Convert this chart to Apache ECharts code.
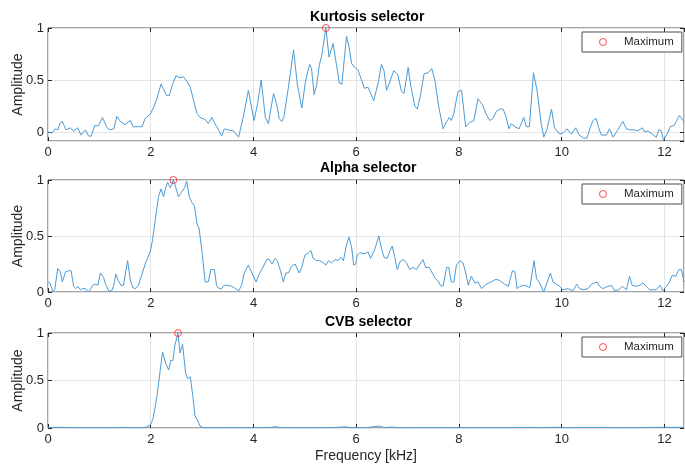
<!DOCTYPE html>
<html><head><meta charset="utf-8">
<script src="https://cdn.jsdelivr.net/npm/echarts@6/dist/echarts.min.js"></script>
<style>html,body{margin:0;padding:0;background:#fff}#c{width:685px;height:465px}</style>
</head><body><div id="c"></div>
<script>
// ---- data (frequency in kHz, normalised amplitude) ----
const kurtFreq = [0.00,0.08,0.14,0.19,0.24,0.28,0.35,0.43,0.50,0.58,0.64,0.73,0.79,0.84,0.91,0.98,1.06,1.15,1.21,1.28,1.34,1.41,1.50,1.60,1.66,1.76,1.83,1.89,1.99,2.05,2.12,2.20,2.25,2.31,2.36,2.42,2.49,2.57,2.64,2.70,2.77,2.83,2.90,2.96,3.06,3.12,3.19,3.25,3.32,3.38,3.43,3.51,3.61,3.71,3.80,3.90,4.01,4.08,4.15,4.23,4.29,4.39,4.45,4.50,4.55,4.59,4.68,4.78,4.85,4.94,5.01,5.09,5.13,5.18,5.23,5.28,5.33,5.41,5.47,5.55,5.62,5.67,5.72,5.81,5.86,5.91,5.97,6.03,6.09,6.16,6.23,6.34,6.43,6.49,6.54,6.59,6.66,6.73,6.81,6.88,6.93,7.01,7.06,7.14,7.19,7.25,7.32,7.40,7.47,7.53,7.60,7.69,7.76,7.81,7.85,7.90,7.98,8.05,8.13,8.21,8.29,8.37,8.46,8.52,8.60,8.66,8.73,8.79,8.86,8.92,8.97,9.02,9.09,9.17,9.26,9.31,9.37,9.45,9.52,9.60,9.65,9.71,9.80,9.86,9.96,10.02,10.10,10.19,10.27,10.34,10.43,10.49,10.56,10.61,10.67,10.72,10.77,10.80,10.87,10.93,11.00,11.09,11.19,11.26,11.33,11.42,11.48,11.57,11.61,11.68,11.76,11.84,11.89,11.94,11.98,12.07,12.11,12.18,12.23,12.29,12.36,12.38];
const kurtAmp  = [0.00,-0.01,0.03,0.02,0.09,0.10,0.02,0.04,0.01,0.04,-0.03,0.02,-0.04,-0.04,0.06,0.06,0.14,0.04,0.02,0.03,0.15,0.10,0.07,0.11,0.05,0.05,0.05,0.13,0.17,0.23,0.32,0.46,0.41,0.35,0.35,0.45,0.54,0.52,0.53,0.49,0.43,0.31,0.18,0.14,0.12,0.08,0.14,0.08,0.02,-0.04,0.03,0.02,0.01,-0.05,0.14,0.40,0.11,0.27,0.50,0.14,0.08,0.37,0.27,0.13,0.10,0.14,0.43,0.79,0.47,0.23,0.48,0.65,0.61,0.36,0.45,0.64,0.74,1.00,0.72,0.85,0.63,0.47,0.46,0.92,0.82,0.66,0.62,0.60,0.52,0.42,0.43,0.30,0.48,0.65,0.59,0.40,0.49,0.59,0.55,0.39,0.37,0.62,0.45,0.25,0.22,0.35,0.56,0.57,0.61,0.50,0.26,0.03,0.10,0.14,0.11,0.18,0.39,0.40,0.05,0.09,0.11,0.32,0.26,0.18,0.11,0.13,0.20,0.22,0.22,0.14,0.03,0.08,0.05,0.03,0.14,0.05,0.05,0.57,0.40,0.08,-0.05,0.02,0.22,0.04,-0.02,-0.01,0.03,-0.02,0.04,-0.03,-0.06,-0.06,0.05,0.11,0.13,0.04,-0.03,-0.02,-0.03,0.03,-0.05,0.02,0.10,0.03,0.02,0.02,0.01,0.04,0.00,0.01,-0.02,-0.05,0.02,0.01,-0.08,0.00,0.05,0.06,0.10,0.16,0.11,0.10];

const alphaFreq = [0.00,0.04,0.09,0.13,0.19,0.24,0.28,0.34,0.40,0.45,0.50,0.54,0.58,0.63,0.67,0.73,0.78,0.82,0.87,0.92,0.97,1.02,1.08,1.13,1.18,1.24,1.28,1.32,1.37,1.42,1.47,1.55,1.60,1.65,1.70,1.76,1.83,1.86,1.90,1.99,2.03,2.09,2.15,2.20,2.25,2.29,2.33,2.38,2.41,2.44,2.47,2.54,2.60,2.66,2.70,2.75,2.80,2.85,2.90,2.94,2.99,3.06,3.12,3.17,3.24,3.28,3.33,3.38,3.43,3.50,3.58,3.65,3.71,3.77,3.82,3.90,3.96,4.05,4.10,4.16,4.19,4.26,4.31,4.36,4.42,4.46,4.52,4.58,4.63,4.68,4.74,4.81,4.89,4.94,5.00,5.07,5.12,5.16,5.23,5.29,5.36,5.41,5.46,5.52,5.59,5.65,5.70,5.75,5.81,5.86,5.91,5.95,5.99,6.02,6.07,6.17,6.23,6.28,6.36,6.44,6.49,6.54,6.60,6.65,6.70,6.75,6.80,6.85,6.91,6.98,7.04,7.11,7.17,7.24,7.30,7.35,7.42,7.48,7.54,7.59,7.64,7.69,7.76,7.80,7.85,7.90,7.95,8.02,8.08,8.13,8.18,8.24,8.31,8.37,8.44,8.50,8.57,8.63,8.70,8.76,8.83,8.89,8.96,9.04,9.09,9.13,9.18,9.28,9.38,9.46,9.51,9.57,9.65,9.71,9.78,9.83,9.90,9.96,10.02,10.12,10.22,10.29,10.35,10.42,10.51,10.58,10.69,10.74,10.80,10.90,10.97,11.03,11.11,11.18,11.26,11.32,11.37,11.45,11.52,11.58,11.65,11.71,11.78,11.84,11.91,11.97,12.02,12.09,12.15,12.22,12.28,12.33,12.38];
const alphaAmp  = [0.09,0.08,0.01,0.02,0.21,0.18,0.09,0.18,0.19,0.19,0.05,0.03,0.05,0.02,0.03,0.03,0.00,0.02,0.06,0.07,0.06,0.17,0.13,0.06,0.01,0.01,0.06,0.16,0.10,0.06,0.06,0.28,0.11,0.04,0.03,0.06,0.16,0.16,0.26,0.36,0.45,0.65,0.85,0.92,0.85,0.93,0.98,0.93,0.96,1.00,0.96,0.85,0.89,0.93,0.99,0.85,0.80,0.77,0.61,0.57,0.39,0.09,0.09,0.20,0.20,0.06,0.03,0.03,0.06,0.06,0.05,0.03,0.01,0.06,0.17,0.24,0.18,0.09,0.15,0.20,0.20,0.29,0.29,0.25,0.30,0.28,0.20,0.09,0.17,0.17,0.23,0.25,0.17,0.22,0.33,0.35,0.37,0.30,0.28,0.28,0.26,0.24,0.28,0.26,0.29,0.28,0.31,0.28,0.42,0.49,0.40,0.24,0.25,0.33,0.35,0.34,0.36,0.30,0.38,0.50,0.39,0.31,0.30,0.36,0.41,0.31,0.20,0.27,0.29,0.26,0.20,0.22,0.20,0.25,0.29,0.22,0.22,0.17,0.12,0.10,0.06,0.05,0.22,0.22,0.09,0.09,0.24,0.28,0.26,0.17,0.06,0.14,0.08,0.09,0.03,0.06,0.08,0.09,0.11,0.11,0.09,0.07,0.05,0.19,0.18,0.03,0.05,0.06,0.04,0.28,0.12,0.08,0.00,0.08,0.17,0.09,0.07,0.05,0.02,0.03,0.01,0.07,0.03,0.02,0.03,0.07,0.09,0.05,0.03,0.05,0.06,0.01,0.02,0.05,0.02,0.14,0.06,0.05,0.06,0.08,0.05,0.02,0.02,0.02,0.06,0.01,0.04,0.08,0.15,0.14,0.20,0.20,0.09];

const cvbFreq = [0.00,0.20,0.50,0.90,1.20,1.50,1.60,1.80,1.92,1.99,2.04,2.09,2.13,2.18,2.23,2.29,2.35,2.39,2.43,2.47,2.53,2.57,2.62,2.68,2.72,2.77,2.82,2.86,2.92,2.96,3.03,3.50,4.00,4.35,4.42,4.50,5.00,5.50,5.80,5.90,6.20,6.45,6.55,6.68,6.80,7.50,8.00,9.00,9.50,9.60,9.90,10.00,10.20,10.90,11.00,11.50,12.00,12.38];
const cvbAmp  = [0.005,0.008,0.003,0.004,0.003,0.006,0.003,0.004,0.010,0.030,0.090,0.230,0.370,0.590,0.800,0.680,0.610,0.710,0.710,0.870,1.000,0.790,0.880,0.570,0.520,0.540,0.330,0.130,0.070,0.020,0.003,0.004,0.003,0.006,0.016,0.004,0.003,0.004,0.012,0.003,0.004,0.020,0.004,0.010,0.003,0.004,0.003,0.004,0.006,0.003,0.008,0.003,0.004,0.006,0.003,0.004,0.008,0.006];

const titles = ['Kurtosis selector','Alpha selector','CVB selector'];
const maxFreq = [5.41, 2.44, 2.53];
const maxAmp  = [1.0, 1.0, 1.0];
const yTickLabels = ['0','0.5','1'];
const xMax = 12.38;

// ---- layout ----
const font = 'Liberation Sans';
const txt = '#262626';
const gridPos = [{top:28,height:113},{top:180,height:112},{top:333,height:95}];
const yMin = [-0.087, 0, 0];
const titleLeft = [310, 320, 325];
const titleTop = [10, 161, 315];
const freqs = [kurtFreq, alphaFreq, cvbFreq];
const amps = [kurtAmp, alphaAmp, cvbAmp];

const grid = [], xAxis = [], yAxis = [], series = [], title = [], legend = [];
gridPos.forEach((g, i) => {
  grid.push({left:48, right:1, top:g.top, height:g.height, show:true,
    borderColor:'#4d4d4d', borderWidth:1, backgroundColor:'#fff'});
  const tick = {show:true, inside:true, length:4, lineStyle:{color:'#262626', width:1}};
  const xBase = {type:'value', gridIndex:i, min:0, max:xMax, interval:2};
  xAxis.push(Object.assign({}, xBase, {
    position:'bottom',
    axisLine:{show:false, onZero:false}, axisTick:tick,
    axisLabel:{show:true, showMaxLabel:false, margin:5, fontSize:13, fontFamily:font, color:txt},
    splitLine:{show:true, lineStyle:{color:'#e3e3e3', width:1}},
    name: i === 2 ? 'Frequency [kHz]' : '', nameLocation:'middle', nameGap:21, nameMoveOverlap:false,
    nameTextStyle:{fontSize:14, fontFamily:font, color:txt}
  }));
  xAxis.push(Object.assign({}, xBase, {
    position:'top', axisLine:{show:false, onZero:false}, axisTick:tick,
    axisLabel:{show:false}, splitLine:{show:false}
  }));
  const yBase = i === 0
    ? {type:'value', gridIndex:i, min:yMin[i], max:1, splitNumber:2}
    : {type:'value', gridIndex:i, min:0, max:1, interval:0.5};
  yAxis.push(Object.assign({}, yBase, {
    position:'left', axisLine:{show:false, onZero:false}, axisTick:tick,
    axisLabel:{show:true, showMinLabel: i !== 0, margin:4, fontSize:13, fontFamily:font, color:txt,
      formatter: v => { const k = [0,0.5,1].indexOf(Math.round(v*100)/100); return k >= 0 ? yTickLabels[k] : ''; }},
    splitLine:{show:true, lineStyle:{color:'#e3e3e3', width:1}},
    name:'Amplitude', nameLocation:'middle', nameGap:23, nameMoveOverlap:false,
    nameTextStyle:{fontSize:14, fontFamily:font, color:txt}
  }));
  yAxis.push(Object.assign({}, yBase, {
    position:'right', axisLine:{show:false, onZero:false}, axisTick:tick,
    axisLabel:{show:false}, splitLine:{show:false}
  }));
  series.push({
    type:'line', name:titles[i], xAxisIndex:2*i, yAxisIndex:2*i,
    data: freqs[i].map((f, k) => [f, amps[i][k]]),
    showSymbol:false, symbol:'none', lineStyle:{color:'#4c9bd5', width:1}, clip:true, z:2
  });
  series.push({
    type:'scatter', name:'Maximum', xAxisIndex:2*i, yAxisIndex:2*i,
    data:[[maxFreq[i], maxAmp[i]]], symbol:'circle', symbolSize:7,
    itemStyle:{color:'rgba(255,255,255,0)', borderColor:'#ff2020', borderWidth:1}, z:5
  });
  title.push({text:titles[i], left:titleLeft[i], top:titleTop[i], padding:0,
    textStyle:{fontSize:14, fontWeight:'bold', fontFamily:font, color:'#000'}});
  legend.push({data:['Maximum'], left:582, top:g.top + 4, orient:'horizontal',
    padding:[4, 8, 4, 17], itemWidth:8, itemHeight:7, icon:'circle',
    itemStyle:{color:'rgba(255,255,255,0)', borderColor:'#ff2020', borderWidth:1},
    backgroundColor:'#fff', borderColor:'#4d4d4d', borderWidth:1, borderRadius:0,
    selectedMode:false,
    textStyle:{fontSize:11.5, fontFamily:font, color:txt, padding:[0,0,0,12]}});
});

const chart = echarts.init(document.getElementById('c'), null, {renderer:'canvas'});
chart.setOption({animation:false, backgroundColor:'#fff', grid, xAxis, yAxis, series, title, legend});
</script>
</body></html>
